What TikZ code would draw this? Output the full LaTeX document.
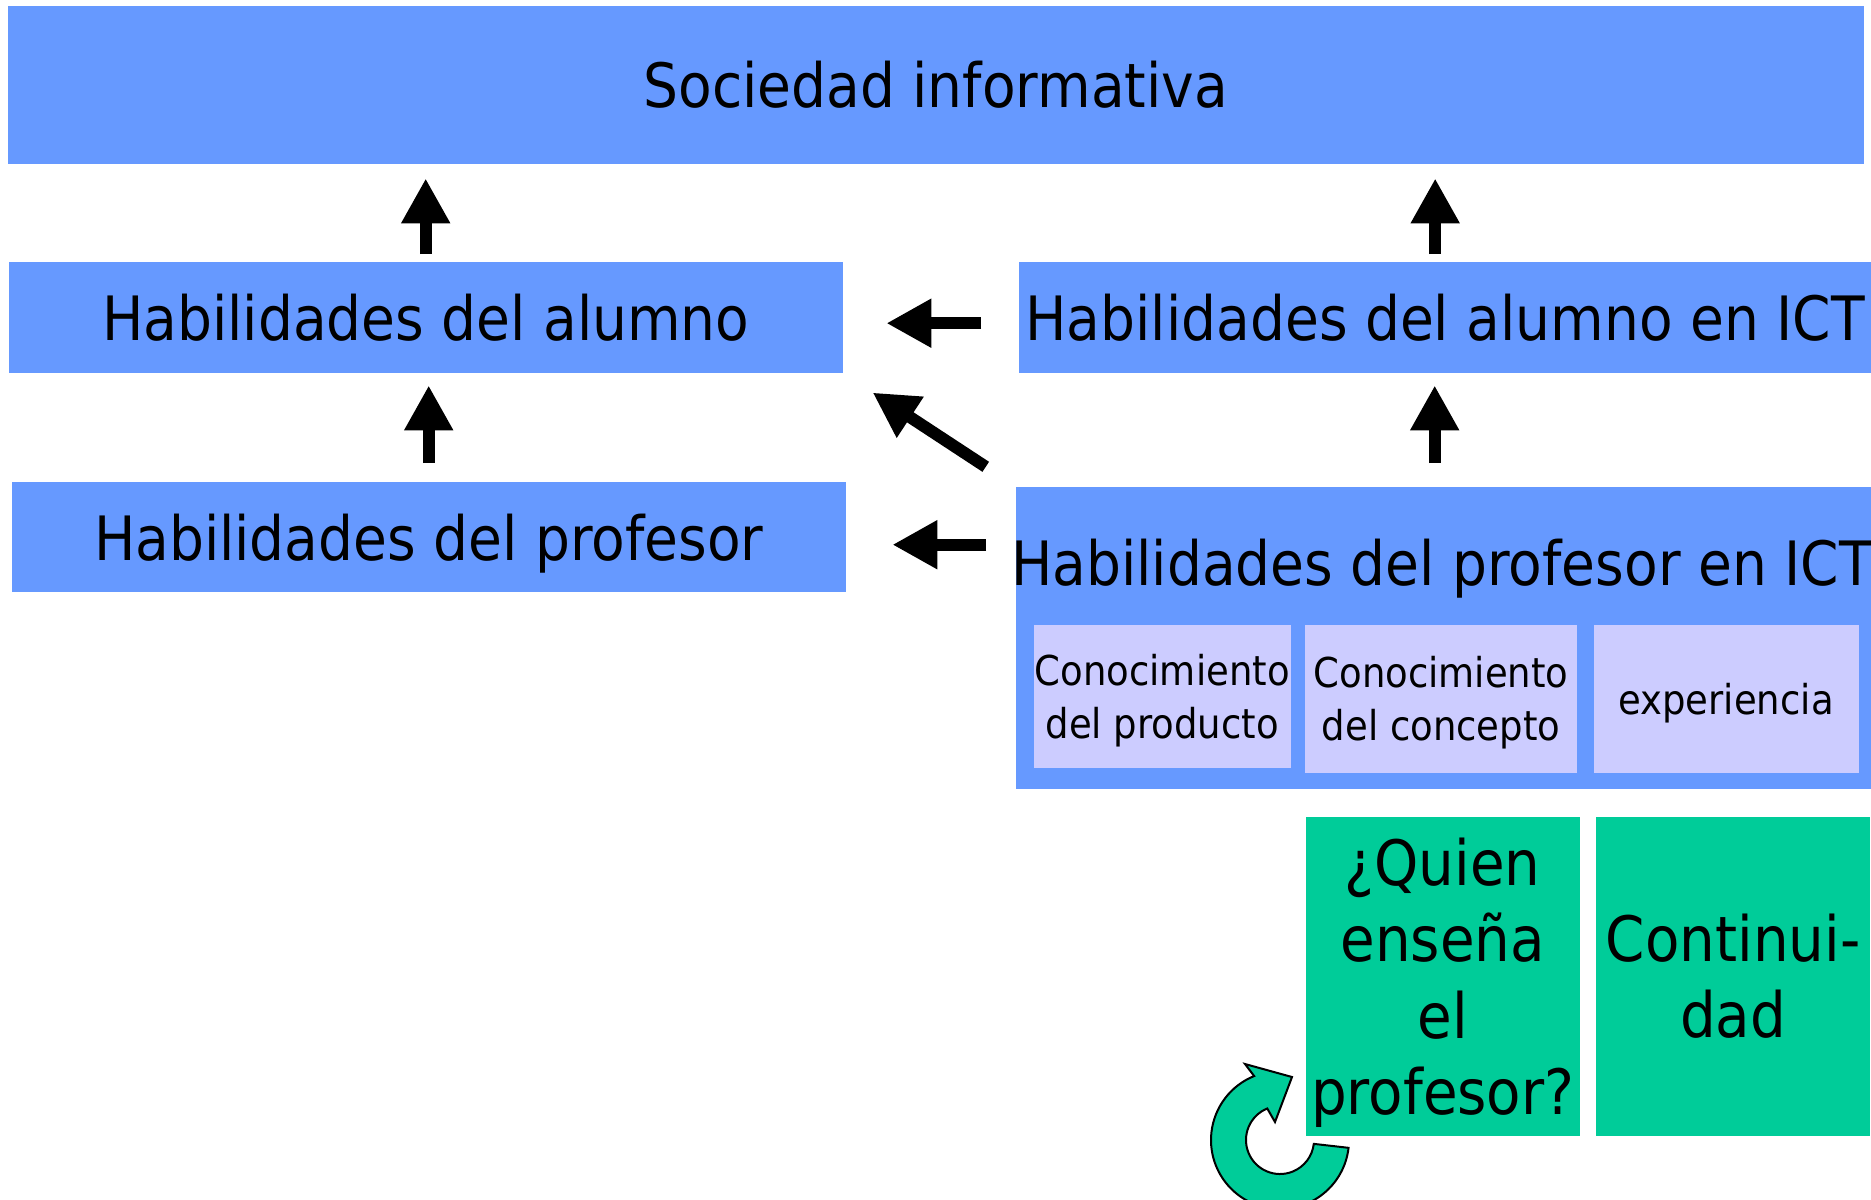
\documentclass[tikz,border=0pt]{standalone}
\usepackage{fontspec}
\setmainfont{DejaVu Sans}[FakeStretch=0.9]
\usepackage{tikz}
\usetikzlibrary{arrows.meta,positioning,calc}
\definecolor{boxblue}{HTML}{6699FF}
\definecolor{sublila}{HTML}{CCCCFF}
\definecolor{tealgreen}{HTML}{00CC99}

\begin{document}
\begin{tikzpicture}[x=0.1mm, y=-0.1mm,
  box/.style={fill=boxblue, anchor=north west, inner sep=0pt, align=center, font=\fontsize{17.4}{20}\selectfont},
  sub/.style={fill=sublila, anchor=north west, inner sep=0pt, align=center, minimum height=14.8mm, text depth=-1pt, font=\fontsize{11.7}{15}\selectfont},
  gbox/.style={fill=tealgreen, anchor=north west, inner sep=0pt, align=center, minimum width=27.4mm, minimum height=31.9mm, font=\fontsize{17.8}{21.7}\selectfont},
  blk/.style={line width=1.2mm, -{Triangle[length=4.5mm, width=4.6mm]}}]
\useasboundingbox (0,0) rectangle (1871,1199);
% boxes
\node[box, minimum width=185.6mm, minimum height=15.8mm] (soc) at (7,5) {Sociedad informativa};
\node[box, minimum width=83.4mm, minimum height=11.1mm] (alumno) at (8,261) {Habilidades del alumno};
\node[box, minimum width=83.4mm, minimum height=11.0mm, text height=17.5pt, text depth=4pt] (prof) at (11,481) {Habilidades del profesor};
\node[box, minimum width=85.3mm, minimum height=11.1mm] (alumnoICT) at (1018,261) {Habilidades del alumno en ICT};
\node[box, minimum width=85.6mm, minimum height=30.2mm] (profICT) at (1015,486) {};
\node[font=\fontsize{17.4}{20}\selectfont, inner sep=0pt] (profICTlab) at (1442,569) {Habilidades del profesor en ICT};
% parts of the teacher's ICT skills
\node[sub, minimum width=25.7mm, minimum height=14.3mm] (producto) at (1033,624) {Conocimiento\\del producto};
\node[sub, minimum width=27.2mm, right=1.3mm of producto.north east, anchor=north west] (concepto) {Conocimiento\\del concepto};
\node[sub, minimum width=26.5mm, right=1.5mm of concepto.north east, anchor=north west] (exper) {experiencia};
% green questions
\node[gbox, text depth=-0.4pt] (quien) at (1305,816) {¿Quien\\enseña\\el\\profesor?};
\node[gbox, right=1.5mm of quien.north east, anchor=north west] (contin) {Continui-\\dad};
% arrows
\draw[blk, shorten <=0.7mm, shorten >=1.4mm] (alumno.north) -- (alumno.north |- soc.south);
\draw[blk, shorten <=1.8mm, shorten >=1.2mm] (prof.north) -- (prof.north |- alumno.south);
\draw[blk, shorten <=0.7mm, shorten >=1.4mm] ([xshift=-1mm]alumnoICT.north) -- ([xshift=-1mm]alumnoICT.north |- soc.south);
\draw[blk, shorten <=2.3mm, shorten >=1.2mm] ([xshift=-0.9mm]profICT.north) -- ([xshift=-0.9mm]profICT.north |- alumnoICT.south);
\draw[blk, shorten <=3.7mm, shorten >=4.3mm] ([yshift=-0.6mm]alumnoICT.west) -- ([yshift=-0.6mm]alumno.east);
\draw[blk, shorten <=2.9mm, shorten >=4.6mm] ([yshift=-0.8mm]prof.east -| profICT.west) -- ([yshift=-0.8mm]prof.east);
\draw[blk, shorten <=3.5mm, shorten >=3.5mm] (profICT.north west) -- (alumno.south east);
% circular arrow
\draw[fill=tealgreen, line width=0.2mm, line join=miter]
  ($(1280,1140)+(6.5:69)$) arc[start angle=6.5, end angle=248, radius=69]
  -- (1245,1064) -- (1292,1077) -- (1275,1122)
  -- ($(1280,1140)+(248:34)$) arc[start angle=248, end angle=6.5, radius=34] -- cycle;
\end{tikzpicture}
\end{document}
